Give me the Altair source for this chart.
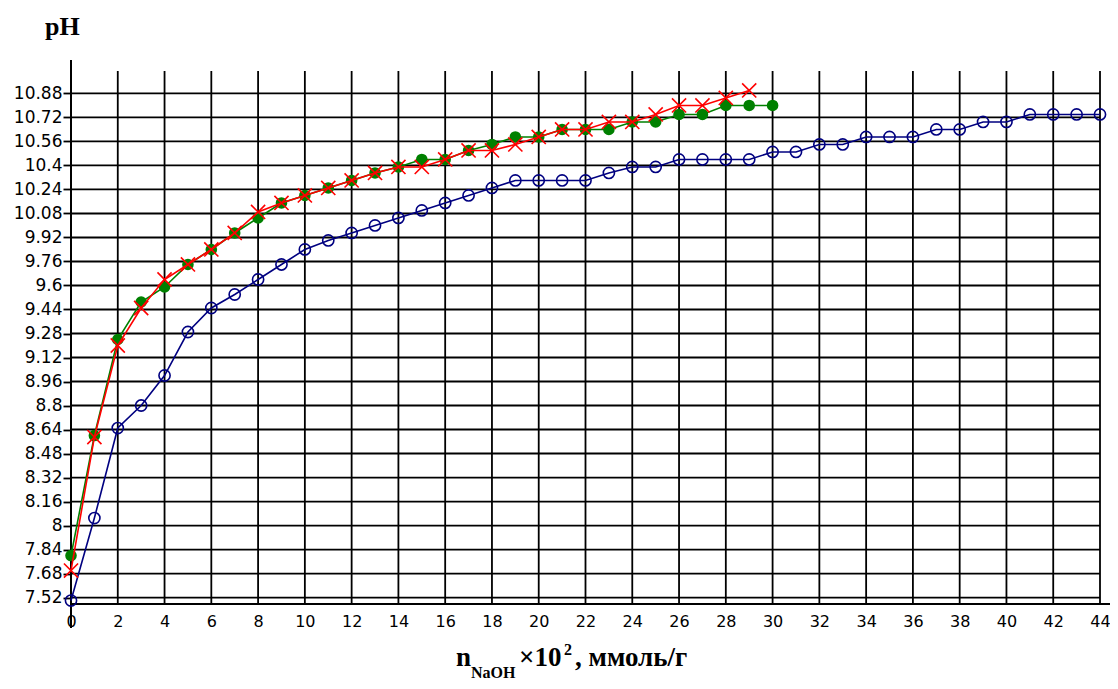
import altair as alt
import pandas as pd

# ---- data ----
x_blue = list(range(0, 45))
ph_blue = [7.50, 8.05, 8.65, 8.80, 9.00, 9.29, 9.45, 9.54, 9.64, 9.74, 9.84,
           9.90, 9.95, 10.00, 10.05, 10.10, 10.15, 10.20, 10.25, 10.30, 10.30,
           10.30, 10.30, 10.35, 10.39, 10.39, 10.44, 10.44, 10.44, 10.44, 10.49,
           10.49, 10.54, 10.54, 10.59, 10.59, 10.59, 10.64, 10.64, 10.69, 10.69,
           10.74, 10.74, 10.74, 10.74]

x_green = list(range(0, 31))
ph_green = [7.80, 8.60, 9.24, 9.49, 9.59, 9.74, 9.84, 9.95, 10.05, 10.15, 10.20,
            10.25, 10.30, 10.35, 10.39, 10.44, 10.44, 10.50, 10.54, 10.59, 10.59,
            10.64, 10.64, 10.64, 10.69, 10.69, 10.74, 10.74, 10.80, 10.80, 10.80]

x_red = list(range(0, 30))
ph_red = [7.70, 8.59, 9.20, 9.45, 9.64, 9.74, 9.84, 9.95, 10.09, 10.15, 10.20,
          10.25, 10.30, 10.35, 10.39, 10.39, 10.44, 10.50, 10.50, 10.54, 10.59,
          10.64, 10.64, 10.69, 10.69, 10.74, 10.80, 10.80, 10.85, 10.90]

y_ticks = [7.52, 7.68, 7.84, 8.0, 8.16, 8.32, 8.48, 8.64, 8.8, 8.96, 9.12,
           9.28, 9.44, 9.6, 9.76, 9.92, 10.08, 10.24, 10.4, 10.56, 10.72, 10.88]
x_ticks = list(range(0, 46, 2))

W, H = 1029, 544
Y_MIN, Y_MAX = 7.477, 11.103
GRID_TOP = 10.95

xs = alt.Scale(domain=[0, 44], nice=False, zero=False)
ys = alt.Scale(domain=[Y_MIN, Y_MAX], nice=False, zero=False)

x_axis = alt.Axis(values=x_ticks, format="d", title=None, grid=False, ticks=False,
                  domain=False, labelFont="DejaVu Sans", labelFontSize=16,
                  labelColor="black", labelPadding=9, labelFlush=False,
                  labelOverlap=False)
y_axis = alt.Axis(values=y_ticks, labelExpr="'' + round(datum.value * 100) / 100",
                  title=None, grid=False, ticks=True,
                  tickSize=8, tickColor="black", tickWidth=1.8, domain=False,
                  labelFont="DejaVu Sans", labelFontSize=17, labelColor="black",
                  labelPadding=1, labelOverlap=False)

df_blue = pd.DataFrame({"x": x_blue, "ph": ph_blue})
df_green = pd.DataFrame({"x": x_green, "ph": ph_green})
df_red = pd.DataFrame({"x": x_red, "ph": ph_red})
df_h = pd.DataFrame({"y": y_ticks})
df_v = pd.DataFrame({"x": x_ticks})
one = pd.DataFrame({"a": [0]})

X = lambda: alt.X("x:Q", scale=xs, axis=x_axis)
Y = lambda: alt.Y("ph:Q", scale=ys, axis=y_axis)

hgrid = alt.Chart(df_h).mark_rule(color="black", strokeWidth=1.8).encode(
    y=alt.Y("y:Q", scale=ys, axis=y_axis),
    x=alt.datum(0, scale=xs),
    x2=alt.datum(44),
)
vgrid = alt.Chart(df_v).mark_rule(color="black", strokeWidth=1.8).encode(
    x=alt.X("x:Q", scale=xs, axis=x_axis),
    y=alt.value(H + 1),
    y2=alt.datum(GRID_TOP),
)
yaxis_line = alt.Chart(one).mark_rule(color="black", strokeWidth=2).encode(
    x=alt.value(0), y=alt.value(0), y2=alt.value(H + 24)
)
xaxis_line = alt.Chart(one).mark_rule(color="black", strokeWidth=1.8).encode(
    x=alt.value(0), x2=alt.value(W + 10), y=alt.value(H)
)

blue_line = alt.Chart(df_blue).mark_line(color="#000080", strokeWidth=1.6).encode(x=X(), y=Y())
blue_pts = alt.Chart(df_blue).mark_point(shape="circle", filled=False, size=125,
                                         color="#000080", strokeWidth=1.6,
                                         opacity=1).encode(x=X(), y=Y())
green_line = alt.Chart(df_green).mark_line(color="#008000", strokeWidth=1.6).encode(x=X(), y=Y())
green_pts = alt.Chart(df_green).mark_point(shape="circle", filled=True, size=135,
                                           color="#008000", opacity=1).encode(x=X(), y=Y())
red_line = alt.Chart(df_red).mark_line(color="#ff0000", strokeWidth=1.6).encode(x=X(), y=Y())
red_pts = alt.Chart(df_red).mark_point(shape="M-1,-1L1,1M-1,1L1,-1", filled=False,
                                       size=200, color="#ff0000", strokeWidth=1.6,
                                       opacity=1).encode(x=X(), y=Y())

serif = "Liberation Serif"


def txt(s, x, y, size):
    return alt.Chart(one).mark_text(text=s, font=serif, fontWeight="bold",
                                    fontSize=size, align="left",
                                    baseline="alphabetic", color="black").encode(
        x=alt.value(x), y=alt.value(y))


titles = [
    txt("pH", -26, -25, 26),
    txt("n", 385, 606, 27),
    txt("NaOH", 400, 618, 16),
    txt("×10", 448, 606, 27),
    txt("2", 493, 595, 16),
    txt(", ммоль/г", 504, 606, 27),
]

chart = alt.layer(
    hgrid, vgrid, yaxis_line, xaxis_line,
    blue_line, blue_pts, green_line, green_pts, red_line, red_pts,
    *titles
).properties(
    width=W, height=H,
    autosize=alt.AutoSizeParams(type="none"),
    padding={"left": 63, "top": 52, "right": 10, "bottom": 77},
    background="white",
).configure_view(stroke=None)

chart.save("out.html", embed_options={"renderer": "svg", "actions": False})
